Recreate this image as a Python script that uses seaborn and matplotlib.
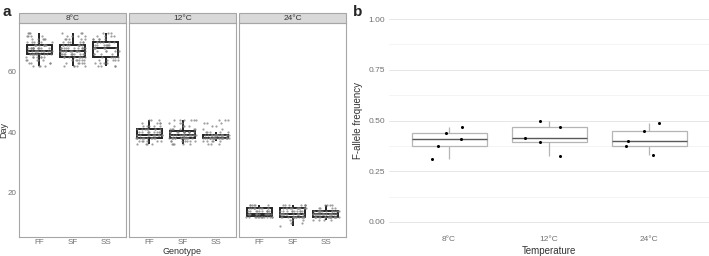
import numpy as np
import pandas as pd
import matplotlib
matplotlib.use('Agg')
import matplotlib.pyplot as plt
from matplotlib.patches import Rectangle
import seaborn as sns

sns.set_theme(style='white')
plt.rcParams['font.family'] = ['Liberation Sans', 'DejaVu Sans']

# ---- panel a: development time (counts of individuals per day) ----
temps = ['8°C', '12°C', '24°C']
genotypes = ['FF', 'SF', 'SS']

days_8 = list(range(62, 74))
counts_8_FF = [4, 4, 5, 7, 10, 12, 12, 9, 6, 5, 4, 3]
counts_8_SF = [5, 5, 6, 8, 11, 13, 12, 9, 6, 5, 4, 3]
counts_8_SS = [4, 4, 5, 5, 4, 5, 7, 7, 6, 5, 4, 3]

days_12 = list(range(36, 45))
counts_12_FF = [4, 6, 12, 12, 9, 8, 5, 4, 3]
counts_12_SF = [5, 7, 16, 16, 12, 6, 4, 3, 6]
counts_12_SS = [3, 5, 24, 22, 5, 2, 2, 3, 3]

days_24 = list(range(9, 17))
counts_24_FF = [0, 0, 0, 14, 14, 10, 10, 6]
counts_24_SF = [1, 2, 3, 14, 16, 10, 14, 7]
counts_24_SS = [0, 0, 4, 18, 22, 14, 4, 4]

# ---- panel b: F-allele frequency per replicate ----
temps_b = ['8°C', '12°C', '24°C']
freq_8 = [0.31, 0.375, 0.41, 0.438, 0.47]
freq_12 = [0.325, 0.392, 0.415, 0.467, 0.50]
freq_24 = [0.328, 0.372, 0.40, 0.447, 0.487]

counts_a = {
    '8°C': (days_8, [counts_8_FF, counts_8_SF, counts_8_SS]),
    '12°C': (days_12, [counts_12_FF, counts_12_SF, counts_12_SS]),
    '24°C': (days_24, [counts_24_FF, counts_24_SF, counts_24_SS]),
}
rows = []
for t in temps:
    days, counts = counts_a[t]
    for g, c in zip(genotypes, counts):
        for d in np.repeat(days, c):
            rows.append((t, g, d))
df_a = pd.DataFrame(rows, columns=['Temperature', 'Genotype', 'Day'])

df_b = pd.DataFrame({
    'Temperature': np.repeat(temps_b, 5),
    'freq': freq_8 + freq_12 + freq_24,
})

W, H = 709, 256
fig = plt.figure(figsize=(W / 100, H / 100), dpi=100)

tick_col = '#707070'
np.random.seed(3)

facet_left = [19, 129, 239]
facet_w = 107
top_px, bot_px, strip_px = 23, 237, 10
for i, t in enumerate(temps):
    ax = fig.add_axes([facet_left[i] / W, 1 - bot_px / H, facet_w / W, (bot_px - top_px) / H])
    sub = df_a[df_a['Temperature'] == t]
    sns.boxplot(data=sub, x='Genotype', y='Day', order=genotypes, ax=ax,
                color='white', linecolor='#222222', linewidth=1.4, width=0.75,
                showcaps=False, showfliers=False)
    sns.stripplot(data=sub, x='Genotype', y='Day', order=genotypes, ax=ax,
                  jitter=0.4, color='#808080', size=1.6, alpha=0.75, linewidth=0)
    ax.set_xlim(-0.6, 2.6)
    ax.set_ylim(5.3, 76.2)
    ax.set_yticks([20, 40, 60])
    ax.set_xlabel('')
    ax.set_ylabel('')
    ax.tick_params(axis='both', labelsize=5.8, colors=tick_col, length=1, width=0.5, pad=0.8)
    if i > 0:
        ax.set_yticklabels([])
        ax.tick_params(axis='y', length=0)
    for s in ax.spines.values():
        s.set_color('#a6a6a6')
        s.set_linewidth(0.8)
    sh = strip_px / (bot_px - top_px)
    ax.add_patch(Rectangle((0, 1), 1, sh, transform=ax.transAxes, clip_on=False,
                           facecolor='#d9d9d9', edgecolor='#a6a6a6', linewidth=0.8))
    ax.text(0.5, 1 + sh / 2, t, transform=ax.transAxes, ha='center', va='center',
            fontsize=6, color='#333333')

fig.text(182 / W, 1 - 251 / H, 'Genotype', ha='center', va='center', fontsize=6.5, color='#333333')
fig.text(4 / W, 1 - 130 / H, 'Day', ha='center', va='center', rotation=90, fontsize=6.5, color='#333333')
fig.text(7 / W, 1 - 12 / H, 'a', ha='center', va='center', fontsize=11, fontweight='bold')
fig.text(358 / W, 1 - 12 / H, 'b', ha='center', va='center', fontsize=11, fontweight='bold')

# ---- panel b ----
axb = fig.add_axes([389 / W, 1 - 232 / H, 320 / W, (232 - 9) / H])
axb.set_axisbelow(True)
for y in np.arange(0.125, 1.0, 0.25):
    axb.axhline(y, color='#f2f2f2', linewidth=0.6, zorder=0)
axb.grid(True, color='#e6e6e6', linewidth=0.7)
sns.boxplot(data=df_b, x='Temperature', y='freq', order=temps_b, ax=axb,
            color='white', linecolor='#b5b5b5', linewidth=0.9, width=0.75,
            showcaps=False, showfliers=False,
            medianprops={'color': '#595959', 'linewidth': 1.0})
sns.stripplot(data=df_b, x='Temperature', y='freq', order=temps_b, ax=axb,
              jitter=0.3, color='black', size=2.2, linewidth=0)
axb.set_xlim(-0.6, 2.6)
axb.set_ylim(-0.05, 1.05)
axb.set_yticks([0, 0.25, 0.5, 0.75, 1.0])
axb.set_yticklabels(['0.00', '0.25', '0.50', '0.75', '1.00'])
axb.tick_params(axis='both', labelsize=6, colors=tick_col, length=0, pad=3)
axb.set_xlabel('Temperature', fontsize=7, color='#333333', labelpad=2)
axb.set_ylabel('F-allele frequency', fontsize=7, color='#333333', labelpad=4)
for s in axb.spines.values():
    s.set_visible(False)

fig.savefig('out.png', dpi=100)
